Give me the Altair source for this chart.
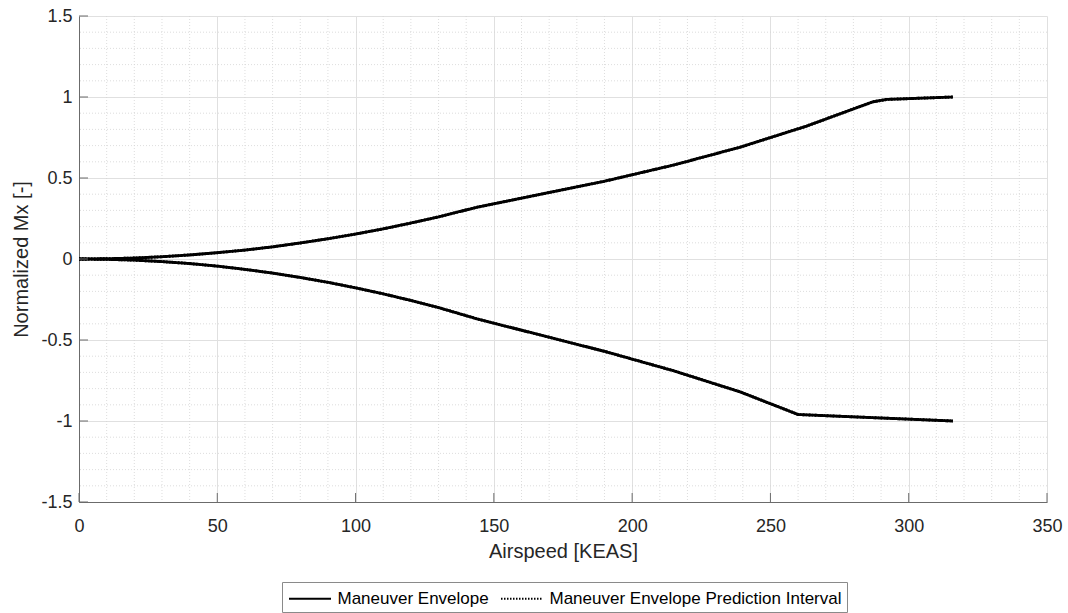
import altair as alt
import pandas as pd

# Maneuver envelope, upper branch (positive Mx)
up_x = [0, 10, 20, 30, 40, 50, 60, 70, 80, 90, 100, 110, 120, 130, 144, 167, 190, 215, 239, 263, 287, 292, 316]
up_y = [0, 0.0015, 0.006, 0.014, 0.025, 0.039, 0.055, 0.075, 0.099, 0.125, 0.154, 0.186, 0.222, 0.26, 0.32, 0.40, 0.48, 0.58, 0.69, 0.82, 0.97, 0.985, 1.0]
# Maneuver envelope, lower branch (negative Mx)
lo_x = [0, 10, 20, 30, 40, 50, 60, 70, 80, 90, 100, 110, 120, 130, 144, 167, 190, 215, 239, 260, 316]
lo_y = [0, -0.002, -0.007, -0.016, -0.028, -0.044, -0.064, -0.087, -0.114, -0.144, -0.178, -0.215, -0.256, -0.3, -0.37, -0.47, -0.57, -0.69, -0.82, -0.96, -1.0]

series = ["Maneuver Envelope", "Maneuver Envelope Prediction Interval"]

x_major = [0, 50, 100, 150, 200, 250, 300, 350]
y_major = [-1.5, -1, -0.5, 0, 0.5, 1, 1.5]
x_minor = [v for v in range(10, 350, 10) if v % 50 != 0]
y_minor = [round(-1.5 + 0.1 * i, 1) for i in range(1, 30) if i % 5 != 0]

rows = []
for s in series:
    for x, y in zip(up_x, up_y):
        rows.append({"series": s, "branch": "upper", "airspeed": x, "mx": y})
    for x, y in zip(lo_x, lo_y):
        rows.append({"series": s, "branch": "lower", "airspeed": x, "mx": y})
df = pd.DataFrame(rows)

FONT = "Liberation Sans"
AX = "#6b6b6b"
xs = alt.Scale(domain=[0, 350], nice=False, zero=False)
ys = alt.Scale(domain=[-1.5, 1.5], nice=False, zero=False)

x_axis = alt.Axis(values=x_major, grid=True, gridColor="#e0e0e0", gridWidth=1,
                  domainColor=AX, ticks=False, labelPadding=15, labelFlush=False,
                  labelExpr="'' + datum.value", titlePadding=6, title="Airspeed [KEAS]")
y_axis = alt.Axis(values=y_major, grid=True, gridColor="#e0e0e0", gridWidth=1,
                  domainColor=AX, ticks=False, labelPadding=7, labelFlush=False,
                  labelExpr="'' + datum.value", titlePadding=9, title="Normalized Mx [-]")

minor_x = alt.Chart(pd.DataFrame({"v": x_minor})).mark_rule(
    color="#d4d4d4", strokeWidth=0.8, strokeDash=[1, 2]
).encode(x=alt.X("v:Q", scale=xs, axis=x_axis))
minor_y = alt.Chart(pd.DataFrame({"v": y_minor})).mark_rule(
    color="#d4d4d4", strokeWidth=0.8, strokeDash=[1, 2]
).encode(y=alt.Y("v:Q", scale=ys, axis=y_axis))

lines = alt.Chart(df).mark_line(strokeWidth=2.9).encode(
    x=alt.X("airspeed:Q", scale=xs, axis=x_axis),
    y=alt.Y("mx:Q", scale=ys, axis=y_axis),
    color=alt.Color("series:N", scale=alt.Scale(domain=series, range=["#000000", "#000000"]),
                    title=None),
    strokeDash=alt.StrokeDash("series:N", scale=alt.Scale(domain=series, range=[[1, 0], [1.5, 1.5]]),
                              title=None),
    detail="branch:N",
    order="airspeed:Q",
)

# inward-pointing tick marks on the left and bottom axes
yticks = alt.Chart(pd.DataFrame({"v": y_major})).mark_rule(color=AX, strokeWidth=1).encode(
    y=alt.Y("v:Q", scale=ys, axis=y_axis), x=alt.value(0), x2=alt.value(9)
)
xticks = alt.Chart(pd.DataFrame({"v": x_major})).mark_rule(color=AX, strokeWidth=1).encode(
    x=alt.X("v:Q", scale=xs, axis=x_axis), y=alt.value(486), y2=alt.value(477)
)

chart = alt.layer(minor_x, minor_y, lines, yticks, xticks).properties(
    width=968, height=486,
    autosize=alt.AutoSizeParams(type="none"),
    padding={"left": 79, "top": 16, "right": 21, "bottom": 111},
).configure_view(stroke=None).configure_axis(
    labelFont=FONT, titleFont=FONT, labelFontSize=18, titleFontSize=20,
    labelColor="#262626", titleColor="#262626", titleFontWeight="normal",
).configure_legend(
    orient="none", legendX=203, legendY=566, direction="horizontal", columns=2,
    labelFont=FONT, labelFontSize=17, labelColor="#000000", labelLimit=0,
    symbolType="M-2,0H2", symbolSize=441, symbolStrokeWidth=2, symbolStrokeColor="#000000",
    symbolOffset=11.5, labelOffset=16,
    strokeColor="#8a8a8a", padding=5, columnPadding=8, fillColor="#ffffff",
)

chart.save("out.html", embed_options={"renderer": "svg", "actions": False})
